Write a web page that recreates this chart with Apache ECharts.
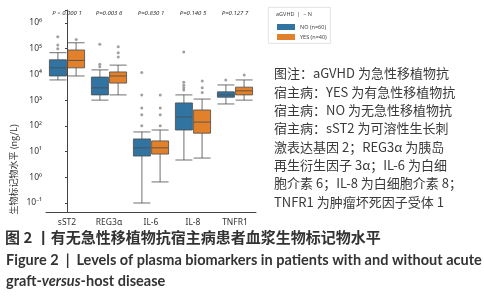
<!DOCTYPE html>
<html>
<head>
<meta charset="utf-8">
<script src="https://cdn.jsdelivr.net/npm/echarts@6/dist/echarts.min.js"></script>
<style>
  html, body { margin: 0; padding: 0; background: #fff; }
  #main { width: 484px; height: 300px; }
</style>
</head>
<body>
<div id="main"></div>
<script>
var categories = ['sST2', 'REG3α', 'IL-6', 'IL-8', 'TNFR1'];
var pLabels = ['P < 0.000 1', 'P=0.003 6', 'P=0.830 1', 'P=0.140 5', 'P=0.127 7'];

// [min, Q1, median, Q3, max]
var boxNo = [
    [6100, 8700, 18000, 37000, 70000],
    [1000, 1600, 3000, 7900, 15000],
    [0.1, 6.7, 14, 31, 58],
    [4.7, 69, 220, 780, 1600],
    [710, 1300, 1600, 2100, 3900]
];
var boxYes = [
    [8700, 18000, 35000, 89000, 170000],
    [1600, 4600, 8700, 12500, 23000],
    [0.66, 8, 14, 26, 69],
    [5.6, 52, 140, 415, 1100],
    [1000, 1600, 2300, 3200, 6100]
];
var outNo = [
    [290000, 140000, 100000],
    [150000, 25000, 20000],
    [12000, 1600, 500, 270, 100],
    [75000, 5000, 3800, 3000, 2500],
    [6100]
];
var outYes = [
    [230000],
    [120000, 70000, 48000],
    [1600, 500, 270, 100],
    [5600, 3000, 2000],
    [9600]
];

var blue = '#3274a1', orange = '#e1812c';

function outlierPoints(list, off) {
    var pts = [];
    list.forEach(function (vals, i) {
        vals.forEach(function (v) { pts.push([i + off, v]); });
    });
    return pts;
}

var supMap = {'-': '⁻', '0': '⁰', '1': '¹', '2': '²', '3': '³', '4': '⁴', '5': '⁵', '6': '⁶'};

var myChart = echarts.init(document.getElementById('main'));

var textLines = [
    '图注：aGVHD 为急性移植物抗',
    '宿主病：YES 为有急性移植物抗',
    '宿主病：NO 为无急性移植物抗',
    '宿主病：sST2 为可溶性生长刺',
    '激表达基因 2；REG3α 为胰岛',
    '再生衍生因子 3α；IL-6 为白细',
    '胞介素 6；IL-8 为白细胞介素 8；',
    'TNFR1 为肿瘤坏死因子受体 1'
];

var graphics = textLines.map(function (t, i) {
    return {
        type: 'text', left: 274, top: 67 + i * 18.3,
        style: { text: t, fontSize: 13, fill: '#3a3a3a', fontFamily: 'Noto Sans CJK SC' }
    };
});
graphics.push(
    {
        type: 'rect', left: 268, top: 7, z: -1,
        shape: { width: 62, height: 36 },
        style: { fill: '#fff', stroke: '#ddd', lineWidth: 0.8 }
    },
    {
        type: 'text', left: 276, top: 11,
        style: { text: 'aGVHD  |  − N', fontSize: 5.5, fill: '#444', fontFamily: 'Noto Sans' }
    },
    {
        type: 'text', left: 9, top: 124, rotation: Math.PI / 2, originX: 0, originY: 0,
        style: {
            text: '生物标记物水平 (ng/L)', fontSize: 9, fill: '#333',
            fontFamily: 'Noto Sans CJK SC', align: 'center', verticalAlign: 'middle'
        }
    },
    {
        type: 'text', left: 5, top: 230,
        style: {
            text: '图 2 丨有无急性移植物抗宿主病患者血浆生物标记物水平',
            fontSize: 15, fontWeight: 'bold', fill: '#333', fontFamily: 'Noto Sans CJK SC'
        }
    },
    {
        type: 'text', left: 6, top: 253,
        style: {
            text: 'Figure 2  |  Levels of plasma biomarkers in patients with and without acute',
            fontSize: 14.5, fontWeight: 'bold', fill: '#333', fontFamily: 'Lato'
        }
    },
    {
        type: 'text', left: 6, top: 274,
        style: {
            text: '{n|graft-}{i|versus}{n|-host disease}',
            rich: {
                n: { fontSize: 14.5, fontWeight: 'bold', fill: '#333', fontFamily: 'Lato' },
                i: { fontSize: 14.5, fontWeight: 'bold', fontStyle: 'italic', fill: '#333', fontFamily: 'Lato' }
            }
        }
    }
);

option = {
    animation: false,
    textStyle: { fontFamily: 'Noto Sans' },
    grid: { left: 46, right: 228, top: 10, bottom: 88 },
    legend: {
        orient: 'vertical',
        left: 272, top: 19,
        itemWidth: 18, itemHeight: 6, itemGap: 4,
        icon: 'rect',
        textStyle: { fontSize: 5.5, color: '#444' },
        data: [
            { name: 'NO (n=60)', itemStyle: { color: blue, borderWidth: 0 } },
            { name: 'YES (n=40)', itemStyle: { color: orange, borderWidth: 0 } }
        ]
    },
    xAxis: [{
        type: 'category',
        data: categories,
        axisLine: { lineStyle: { color: '#444' } },
        axisTick: { alignWithLabel: true, length: 3, lineStyle: { color: '#444' } },
        axisLabel: { fontSize: 8.5, color: '#333', margin: 6 }
    }, {
        type: 'value', min: -0.5, max: 4.5, show: false
    }, {
        type: 'category',
        position: 'top',
        data: pLabels,
        axisLine: { show: false },
        axisTick: { show: false },
        axisLabel: {
            margin: -6, fontSize: 6, color: '#333', fontStyle: 'italic'
        }
    }],
    yAxis: {
        type: 'log',
        logBase: 10,
        min: 0.0447,
        max: 3.2e6,
        splitNumber: 8,
        splitLine: { show: false },
        axisLine: { show: true, lineStyle: { color: '#444' } },
        axisTick: { show: true, length: 2, lineStyle: { color: '#444' } },
        axisLabel: {
            fontSize: 8.5, color: '#333', margin: 4,
            formatter: function (v) {
                var e = Math.log10(v);
                if (Math.abs(e - Math.round(e)) > 0.01) return '';
                var s = String(Math.round(e)).split('').map(function (c) { return supMap[c]; }).join('');
                return '10' + s;
            }
        }
    },
    series: [{
        name: 'NO (n=60)',
        type: 'boxplot',
        boxWidth: [17, 17],
        data: boxNo,
        itemStyle: { color: blue, borderColor: '#4a4a4a', borderWidth: 0.8 }
    }, {
        name: 'YES (n=40)',
        type: 'boxplot',
        boxWidth: [17, 17],
        data: boxYes,
        itemStyle: { color: orange, borderColor: '#4a4a4a', borderWidth: 0.8 }
    }, {
        type: 'scatter',
        xAxisIndex: 1,
        symbolSize: 3,
        data: outlierPoints(outNo, -0.22),
        itemStyle: { color: '#888', opacity: 0.8 }
    }, {
        type: 'scatter',
        xAxisIndex: 1,
        symbolSize: 3,
        data: outlierPoints(outYes, 0.22),
        itemStyle: { color: '#888', opacity: 0.8 }
    }],
    graphic: graphics
};

myChart.setOption(option);
</script>
</body>
</html>
